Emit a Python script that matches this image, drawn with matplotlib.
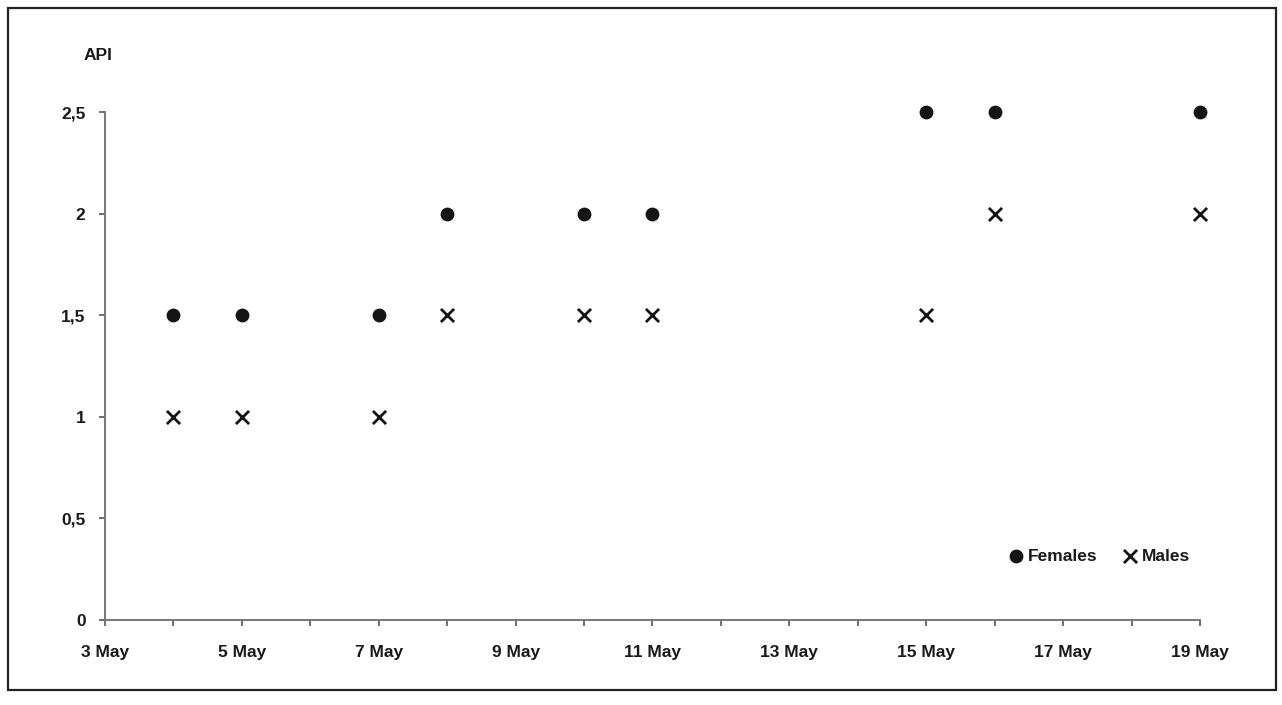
import matplotlib
matplotlib.use("Agg")
import matplotlib.pyplot as plt
from matplotlib.patches import Rectangle

# data (day of May)
days_f = [4, 5, 7, 8, 10, 11, 15, 16, 19]
api_f = [1.5, 1.5, 1.5, 2, 2, 2, 2.5, 2.5, 2.5]
days_m = [4, 5, 7, 8, 10, 11, 15, 16, 19]
api_m = [1, 1, 1, 1.5, 1.5, 1.5, 1.5, 2, 2]
xtick_days = list(range(3, 20))
ytick_vals = [0, 0.5, 1, 1.5, 2, 2.5]
ytick_labels = ["0", "0,5", "1", "1,5", "2", "2,5"]

plt.rcParams["font.family"] = ["Liberation Sans", "DejaVu Sans"]
plt.rcParams["font.weight"] = "bold"
TXT = "#1a1a1a"
FS = 12.5

fig = plt.figure(figsize=(12.82, 7.05), dpi=100)
ax = fig.add_axes([0.0819, 0.1206, 0.8541, 0.7205])

ax.scatter(days_f, api_f, marker="o", s=80, color="#151515", label="Females",
           zorder=3, clip_on=False)
ax.scatter(days_m, api_m, marker="x", s=90, color="#151515", linewidths=2.0,
           label="Males", zorder=3, clip_on=False)

ax.set_xlim(3, 19)
ax.set_ylim(0, 2.5)
ax.set_xticks(xtick_days)
ax.set_xticklabels([f"{d} May" if d % 2 == 1 else "" for d in xtick_days])
ax.set_yticks(ytick_vals)
ax.set_yticklabels(ytick_labels)
ax.tick_params(axis="both", direction="out", length=4, width=1.2, color="#555555",
               labelsize=FS, labelcolor=TXT)
ax.tick_params(axis="x", pad=14)
ax.tick_params(axis="y", pad=10)
for s in ("top", "right"):
    ax.spines[s].set_visible(False)
for s in ("left", "bottom"):
    ax.spines[s].set_color("#777777")
    ax.spines[s].set_linewidth(1.4)

fig.text(0.0648, 0.915, "API", fontsize=FS, fontweight="bold", color=TXT)

ax.legend(loc="lower right", bbox_to_anchor=(1.005, 0.08), ncol=2, frameon=False,
          prop={"size": FS, "weight": "bold"}, handletextpad=0.15,
          columnspacing=1.4, handlelength=1.0, labelcolor=TXT)

# scanned-figure border
fig.patches.append(Rectangle((0.006, 0.021), 0.989, 0.968, transform=fig.transFigure,
                             fill=False, edgecolor="#222222", linewidth=1.6))

fig.savefig("out.png", dpi=100)
